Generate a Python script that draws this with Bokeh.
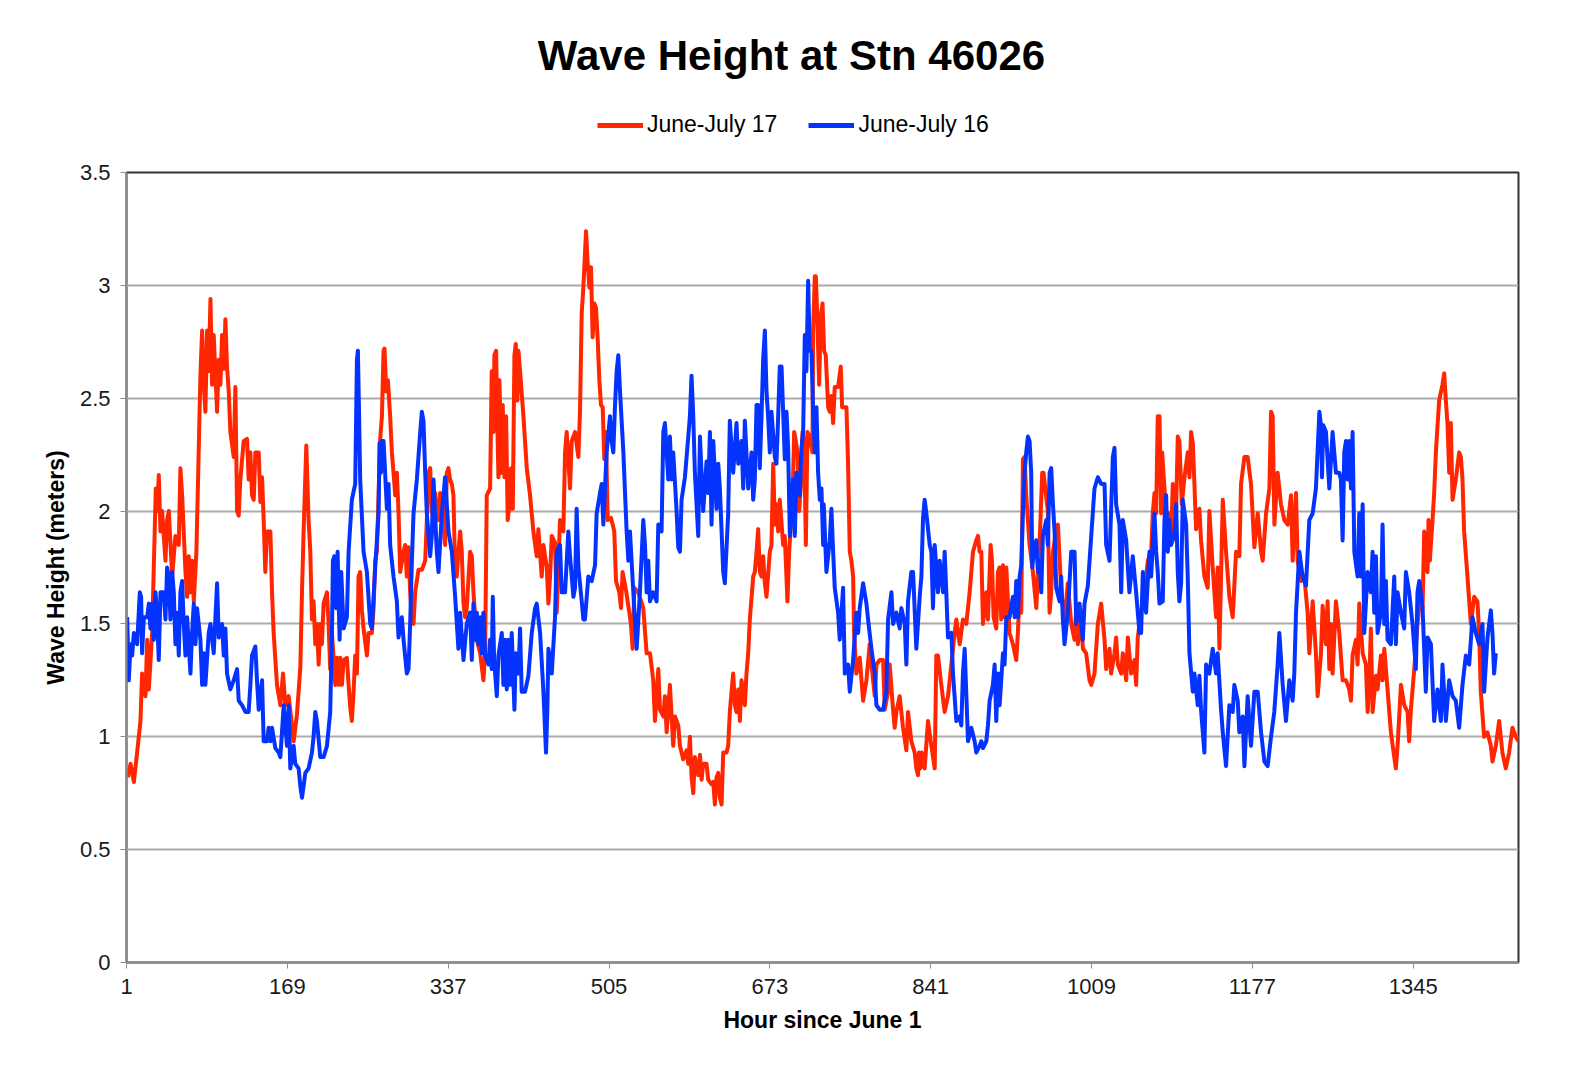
import numpy as np
from bokeh.plotting import figure
from bokeh.layouts import column
from bokeh.models import ColumnDataSource, Range1d, FixedTicker, Legend, LegendItem, Label
from bokeh.embed import file_html
from bokeh.resources import INLINE

title_text = "Wave Height at Stn 46026"
series_names = ["June-July 17", "June-July 16"]
series_colors = ["#ff2600", "#0433ff"]
x_title = "Hour since June 1"
y_title = "Wave Height (meters)"
x_ticks = [1, 169, 337, 505, 673, 841, 1009, 1177, 1345]
y_ticks = [0, 0.5, 1, 1.5, 2, 2.5, 3, 3.5]
y_tick_labels = ["0", "0.5", "1", "1.5", "2", "2.5", "3", "3.5"]

# June-July 17 (red)
red_hours = [
    2.4, 5.2, 8.7, 12.1, 15.6, 17.3, 20.8, 22.6, 24.3, 27.8, 29.5, 31.6, 33.0, 34.7, 36.5, 38.2, 41.7, 43.4, 45.2, 48.7,
    52.1, 55.6, 57.3, 59.1, 62.6, 64.3, 66.0, 67.8, 69.5, 71.3, 74.0, 76.5, 78.2, 80.0, 81.7, 83.4, 85.2, 86.9, 88.7, 90.4,
    92.1, 95.6, 97.4, 99.1, 100.8, 102.6, 104.3, 106.0, 107.8, 109.5, 113.0, 114.7, 116.5, 118.2, 119.9, 123.4, 126.9, 128.6, 130.4, 132.1,
    133.9, 135.6, 139.1, 140.8, 142.6, 144.3, 146.0, 147.8, 151.3, 153.0, 154.7, 158.2, 161.7, 164.5, 166.9, 170.4, 173.9, 175.6, 179.1, 182.6,
    184.3, 186.0, 188.8, 191.2, 193.0, 194.7, 196.4, 198.2, 199.9, 201.7, 203.4, 205.1, 206.9, 210.4, 212.1, 213.8, 215.6, 219.1, 220.8, 222.5,
    224.3, 226.0, 227.8, 231.2, 233.0, 234.7, 236.4, 238.2, 239.9, 241.7, 243.4, 245.1, 246.9, 248.6, 252.1, 253.8, 257.3, 259.1, 260.8, 262.5,
    264.3, 266.0, 267.8, 269.5, 270.5, 272.3, 274.0, 276.4, 278.2, 279.9, 281.7, 283.4, 285.1, 286.9, 290.4, 292.1, 293.8, 295.6, 297.3, 299.1,
    300.8, 302.5, 306.0, 309.5, 313.0, 314.7, 316.4, 318.2, 319.9, 321.7, 323.4, 325.1, 326.9, 328.6, 330.4, 332.1, 333.8, 335.6, 337.3, 339.0,
    340.8, 342.5, 344.3, 346.0, 347.7, 349.5, 351.2, 353.0, 354.7, 356.4, 359.9,
    361.7, 363.4, 366.9, 370.4, 373.8, 375.6, 377.3, 380.8, 382.5, 384.3, 385.3, 387.1, 388.5, 389.5, 390.5, 393.0, 394.0, 395.8, 397.5, 399.2,
    401.0, 402.7, 404.5, 406.2, 407.6, 409.3, 410.4, 412.1, 415.6, 419.1, 422.5, 426.0, 429.5, 431.2, 434.7, 436.5, 440.0, 441.7, 443.4, 445.2,
    448.6, 450.4, 452.1, 453.8, 457.3, 459.1, 460.8, 464.3, 466.0, 469.5, 473.0, 474.7, 476.5, 478.2, 481.0, 482.7, 484.5, 486.2, 487.9, 489.7,
    491.4, 493.2, 494.9, 496.6, 498.4, 500.1, 501.8, 503.6, 507.1, 510.5, 512.3, 515.8, 517.5, 519.2, 522.7, 526.2, 527.9, 529.7, 531.4, 535.6,
    540.8, 544.3, 547.8, 551.2, 553.0, 556.5, 558.2, 561.7, 563.4, 565.2, 568.6, 572.1, 573.9, 577.3, 579.1, 582.5, 586.0, 587.8, 589.5, 591.3,
    593.0, 594.7, 598.2, 600.0, 601.7, 603.4, 606.9, 608.6, 612.1, 613.9, 615.6, 617.3, 619.1, 620.8, 622.6, 624.3, 627.8, 629.5, 631.2, 633.0,
    634.7, 636.5, 638.2, 640.0, 641.7, 643.4, 646.9, 648.6, 650.4, 652.1, 655.6, 657.3, 659.1, 660.8, 662.5, 664.3, 666.0, 667.8, 669.5, 673.0,
    674.7, 676.5, 678.2, 679.9, 681.7, 683.4, 686.9, 688.6, 691.4, 693.2, 694.9, 696.6, 698.4, 700.1, 701.9, 703.6, 705.3, 707.1, 708.8, 710.6,
    712.3, 714.7,
    717.5, 718.2, 720.0, 721.0, 722.4, 724.5, 726.2, 728.0, 729.7, 731.4, 733.9, 735.6, 737.3, 739.1, 740.8, 744.3, 747.1, 748.5, 751.3, 753.0,
    754.7, 756.5, 758.2, 760.0, 761.0, 763.4, 766.9, 770.4, 773.9, 777.3, 779.1, 782.6, 784.3, 787.8, 791.3, 793.0, 796.5, 798.2, 801.7, 803.4,
    805.2, 808.6, 812.1, 815.6, 817.3, 820.8, 824.3, 826.0, 827.8, 828.8, 830.2, 831.6, 834.7, 838.2, 841.7, 845.2, 846.9, 848.6, 852.1, 855.6,
    859.1, 862.6, 866.0, 867.8, 871.3, 874.7, 878.2, 881.7, 885.2, 888.6, 890.4, 892.1,
    893.9, 895.6, 899.1, 900.8, 903.6, 905.0, 906.7, 909.5, 911.3, 913.0, 914.7, 916.5, 918.2, 920.0, 923.4, 926.9, 930.4, 932.1, 933.9, 935.6,
    937.4, 939.1, 940.8, 944.3, 947.8, 951.3, 953.0, 954.7, 957.5, 958.9, 961.7, 963.4, 965.2, 966.9, 968.7, 972.1, 973.9, 977.4, 980.8, 984.3,
    987.8, 991.3, 993.0, 994.7, 998.2, 1000.0, 1003.4, 1006.9, 1008.7, 1012.1, 1015.6, 1019.1, 1022.6, 1024.3, 1027.8, 1029.5, 1033.0, 1034.7, 1036.5, 1040.0,
    1041.7, 1045.2, 1046.9, 1050.4, 1053.9, 1055.6, 1057.3, 1060.8, 1064.3, 1067.8,
    1071.3, 1073.0, 1074.8, 1076.5, 1078.2, 1080.0, 1081.7, 1082.8, 1085.2, 1088.7, 1090.4, 1092.1, 1093.9, 1097.4, 1099.1, 1100.8, 1103.3, 1106.1, 1109.5, 1111.3,
    1113.0, 1114.8, 1116.5, 1118.2, 1121.7, 1123.4, 1126.9, 1130.4, 1132.1, 1135.6, 1139.1, 1140.8, 1142.6, 1146.1, 1149.5, 1153.0, 1156.5, 1160.0, 1163.4, 1165.2,
    1168.7, 1172.1, 1175.6, 1179.1, 1182.6, 1186.1, 1187.8, 1191.3, 1194.8, 1196.5, 1198.2, 1200.0, 1203.4, 1206.9, 1210.4, 1213.9, 1217.4, 1219.1, 1222.6, 1224.3,
    1227.8, 1231.3, 1234.7, 1236.5, 1240.0, 1243.4, 1245.2,
    1248.7, 1250.4, 1253.9, 1255.6, 1257.4, 1259.1, 1260.8, 1264.3, 1267.8, 1271.3, 1274.8, 1278.2, 1280.0, 1281.7, 1285.2, 1286.9, 1288.7, 1292.2, 1295.6, 1297.4,
    1299.1, 1300.8, 1302.6, 1306.1, 1307.8, 1311.3, 1313.0, 1314.8, 1318.2, 1321.7, 1325.2, 1326.9, 1328.7, 1332.2, 1335.6, 1339.1, 1340.8, 1342.6, 1346.1, 1349.5,
    1353.0, 1354.8, 1356.5, 1360.0, 1361.0, 1362.4, 1365.2, 1366.9, 1368.7, 1372.1, 1375.6, 1377.4, 1379.1, 1380.8, 1382.6, 1384.3, 1386.1, 1389.5, 1393.0, 1394.8,
    1396.5, 1398.2, 1401.7, 1405.2, 1408.7, 1412.1, 1413.9, 1415.6, 1419.1, 1422.6, 1426.1, 1427.8, 1431.3, 1434.8, 1438.2, 1441.7, 1445.2, 1448.7, 1452.2, 1455.0,
]
red_height = [
    0.82, 0.88, 0.80, 0.93, 1.07, 1.28, 1.18, 1.43, 1.21, 1.46, 1.75, 2.10, 2.00, 2.16, 1.91, 2.00, 1.78, 1.96, 2.00, 1.71,
    1.89, 1.85, 2.19, 2.07, 1.73, 1.62, 1.80, 1.64, 1.78, 1.60, 1.82, 2.28, 2.60, 2.80, 2.56, 2.44, 2.80, 2.62, 2.94, 2.56,
    2.78, 2.44, 2.67, 2.56, 2.78, 2.63, 2.85, 2.64, 2.53, 2.35, 2.24, 2.55, 2.00, 1.98, 2.14, 2.31, 2.32, 2.14, 2.26, 2.07,
    2.05, 2.26, 2.26, 2.04, 2.15, 1.96, 1.73, 1.91, 1.91, 1.64, 1.46, 1.23, 1.14, 1.28, 1.14, 1.18, 1.05, 0.98, 1.10, 1.31,
    1.64, 1.91, 2.29, 1.96, 1.82, 1.52, 1.60, 1.41, 1.50, 1.32, 1.50, 1.41, 1.59, 1.64, 1.50, 1.30, 1.46, 1.23, 1.35, 1.23,
    1.35, 1.23, 1.34, 1.35, 1.23, 1.13, 1.07, 1.20, 1.36, 1.28, 1.71, 1.73, 1.56, 1.48, 1.36, 1.46, 1.46, 1.57, 1.78, 1.82,
    2.07, 2.32, 2.42, 2.71, 2.72, 2.53, 2.58, 2.42, 2.26, 2.17, 2.07, 2.17, 2.00, 1.73, 1.82, 1.85, 1.71, 1.84, 1.64, 1.52,
    1.50, 1.64, 1.74, 1.74, 1.78, 1.96, 2.17, 2.19, 2.00, 1.96, 2.08, 2.00, 1.96, 2.08, 2.03, 1.94, 1.85, 2.17, 2.19, 2.14,
    2.12, 2.07, 1.73, 1.71, 1.82, 1.91, 1.82, 1.59, 1.53, 1.57, 1.82,
    1.80, 1.64, 1.43, 1.37, 1.25, 1.37, 2.07, 2.10, 2.62, 2.35, 2.69, 2.71, 2.35, 2.15, 2.58, 2.17, 2.47, 2.15, 2.42, 1.96,
    2.03, 2.19, 2.01, 2.69, 2.74, 2.49, 2.71, 2.62, 2.42, 2.19, 2.07, 1.91, 1.80, 1.92, 1.71, 1.85, 1.75, 1.59, 1.71, 1.89,
    1.86, 1.55, 1.76, 1.96, 1.91, 2.26, 2.35, 2.10, 2.31, 2.35, 2.24, 2.44, 2.88, 2.99, 3.24, 3.10, 2.99, 3.08, 2.77, 2.92,
    2.90, 2.76, 2.58, 2.47, 2.46, 2.23, 2.35, 1.96, 1.97, 1.91, 1.69, 1.64, 1.57, 1.73, 1.65, 1.55, 1.50, 1.39, 1.66, 1.64,
    1.57, 1.37, 1.37, 1.25, 1.07, 1.30, 1.12, 1.09, 1.18, 1.02, 1.23, 0.96, 1.09, 1.05, 0.96, 0.90, 0.94, 0.88, 1.00, 0.82,
    0.75, 0.91, 0.83, 0.92, 0.81, 0.88, 0.88, 0.81, 0.79, 0.80, 0.70, 0.82, 0.84, 0.73, 0.70, 0.93, 0.93, 0.96, 1.11, 1.20,
    1.28, 1.14, 1.11, 1.21, 1.07, 1.25, 1.14, 1.28, 1.37, 1.52, 1.71, 1.73, 1.82, 1.92, 1.73, 1.71, 1.80, 1.68, 1.62, 1.82,
    1.85, 2.21, 1.94, 2.03, 1.91, 2.05, 1.85, 1.89, 1.60, 1.82, 1.94, 2.03, 2.35, 2.31, 2.26, 2.00, 2.11, 2.35, 2.31, 1.85,
    2.35, 2.33,
    2.26, 2.80, 3.04, 3.04, 2.88, 2.56, 2.86, 2.92, 2.71, 2.69, 2.46, 2.44, 2.51, 2.39, 2.55, 2.55, 2.64, 2.46, 2.46, 2.46,
    2.21, 1.82, 1.78, 1.71, 1.46, 1.28, 1.35, 1.16, 1.25, 1.41, 1.32, 1.18, 1.32, 1.34, 1.34, 1.12, 1.20, 1.32, 1.12, 1.04,
    1.11, 1.18, 1.04, 0.94, 1.11, 0.98, 0.93, 0.86, 0.83, 0.93, 0.86, 0.93, 0.86, 1.07, 0.96, 0.86, 1.36, 1.36, 1.23, 1.11,
    1.18, 1.32, 1.46, 1.52, 1.41, 1.52, 1.50, 1.64, 1.82, 1.87, 1.89, 1.82,
    1.82, 1.50, 1.64, 1.52, 1.85, 1.78, 1.53, 1.48, 1.73, 1.75, 1.52, 1.76, 1.53, 1.75, 1.46, 1.41, 1.34, 1.46, 1.64, 1.55,
    2.23, 2.24, 2.07, 1.85, 1.73, 1.57, 1.73, 1.85, 2.17, 2.17, 2.06, 2.00, 1.55, 1.64, 1.82, 1.91, 1.94, 1.64, 1.52, 1.68,
    1.50, 1.43, 1.57, 1.41, 1.53, 1.39, 1.37, 1.25, 1.23, 1.28, 1.50, 1.59, 1.43, 1.30, 1.39, 1.28, 1.37, 1.44, 1.32, 1.28,
    1.37, 1.25, 1.44, 1.28, 1.34, 1.23, 1.44, 1.55, 1.64, 1.78,
    1.82, 1.99, 2.08, 1.99, 2.42, 2.42, 1.99, 2.26, 2.10, 1.87, 1.99, 1.87, 2.12, 2.01, 2.33, 2.31, 2.03, 2.15, 2.26, 2.15,
    2.35, 2.30, 2.12, 1.92, 2.01, 1.87, 1.71, 1.66, 2.00, 1.75, 1.53, 1.75, 1.39, 2.05, 1.82, 1.62, 1.53, 1.82, 1.80, 2.12,
    2.24, 2.24, 2.12, 1.84, 1.99, 1.82, 1.78, 1.99, 2.10, 2.44, 2.42, 1.94, 2.17, 2.03, 1.96, 1.94, 2.07, 1.78, 2.08, 1.78,
    1.69, 1.71, 1.55, 1.37, 1.60, 1.37, 1.18,
    1.37, 1.58, 1.41, 1.60, 1.30, 1.50, 1.28, 1.60, 1.46, 1.25, 1.25, 1.21, 1.16, 1.36, 1.43, 1.32, 1.59, 1.37, 1.32, 1.11,
    1.25, 1.48, 1.11, 1.27, 1.21, 1.36, 1.25, 1.39, 1.21, 1.02, 0.91, 0.86, 0.96, 1.23, 1.14, 1.11, 0.98, 1.12, 1.30, 1.50,
    1.64, 1.57, 1.91, 1.73, 1.96, 1.78, 1.96, 2.08, 2.26, 2.49, 2.56, 2.61, 2.49, 2.39, 2.17, 2.39, 2.05, 2.14, 2.26, 2.24,
    2.14, 1.91, 1.71, 1.50, 1.62, 1.60, 1.46, 1.20, 1.00, 1.02, 0.96, 0.89, 0.96, 1.07, 0.93, 0.86, 0.93, 1.04, 1.00, 0.98,
]

# June-July 16 (blue)
blue_hours = [
    1.7, 3.4, 5.2, 6.9, 8.7, 12.1, 14.9, 16.3, 17.3, 19.1, 22.6, 24.3, 26.0, 27.8, 29.5, 31.3, 33.0, 34.7, 36.5, 39.9,
    41.7, 43.4, 45.2, 46.9, 48.7, 50.4, 52.1, 53.9, 55.6, 57.3, 59.1, 60.8, 62.6, 64.3, 67.8, 69.5, 71.3, 73.0, 74.7, 78.2,
    80.0, 81.7, 83.4, 86.9, 88.7, 92.1, 95.6, 97.4, 100.8, 102.6, 104.3, 106.0, 109.5, 113.0, 116.5, 118.2, 121.7, 125.2, 128.6, 130.4,
    132.1, 135.6, 137.3, 139.1, 142.6, 144.3, 147.8, 149.5, 151.3, 153.0, 156.5, 160.0, 161.7, 163.4, 165.2, 168.6, 170.4, 172.1, 175.6, 177.3,
    180.8, 182.6,
    184.3, 187.8, 191.2, 194.7, 196.4, 198.2, 199.9, 203.4, 206.9, 210.4, 213.8, 215.6, 216.6, 218.0, 220.1, 221.5, 223.6, 225.3, 227.8, 231.2,
    233.0, 236.4, 239.9, 241.7, 242.7, 243.8, 245.1, 248.6, 252.1, 255.6, 257.3, 260.8, 264.3, 265.3, 266.7, 267.8, 269.5, 273.0, 274.7, 276.4,
    279.9, 283.4, 285.1, 288.6, 290.4, 293.8, 295.6, 297.3, 299.1, 300.8, 304.3, 307.8, 309.5, 311.2, 313.0, 314.7, 318.2, 319.9, 321.7, 325.1,
    326.9, 330.4, 333.8, 337.3, 340.8, 344.3, 347.7, 349.5, 353.0, 356.4, 359.9,
    361.7, 363.4, 365.2, 366.9, 368.6, 370.4, 372.1, 373.8, 375.6, 379.1, 380.8, 382.5, 383.6, 385.0, 387.8, 389.5, 393.0, 394.7, 396.5, 398.2,
    400.0, 401.7, 403.4, 406.2, 407.6, 410.4, 412.1, 413.8, 417.3, 420.8, 424.3, 427.8, 429.5, 433.0, 436.5, 439.2, 440.6, 441.7, 445.2, 448.6,
    450.4, 453.8, 455.6, 459.1, 462.5, 464.3, 467.8, 469.5, 471.2, 473.0, 476.5, 478.2, 479.9, 483.4, 486.9, 490.4, 492.1, 495.6, 497.3, 499.1,
    502.5, 506.0, 507.8, 509.5, 511.2, 513.0, 514.7, 516.5, 520.0, 523.4, 525.2, 526.9, 530.4, 533.9, 537.3,
    540.8, 542.6, 544.3, 546.0, 547.8, 551.2, 554.7, 556.5, 559.9, 561.7, 563.4, 565.2, 566.9, 568.6, 570.4, 572.1, 575.6, 577.3, 579.1, 580.8,
    584.3, 587.8, 589.5, 591.2, 593.0, 594.7, 598.2, 600.0, 603.4, 606.9, 608.6, 610.4, 612.1, 613.9, 617.3, 619.1, 620.8, 624.3, 626.0, 627.8,
    629.5, 631.2, 634.7, 638.2, 640.0, 643.4, 645.2, 646.9, 650.4, 653.9, 655.6, 657.3, 659.1, 660.8, 662.5, 664.3, 666.0, 667.8, 669.5, 671.2,
    673.0, 674.7, 678.2, 679.9, 681.7, 683.4, 685.2, 686.9, 688.6, 690.4, 692.1, 693.9, 697.3, 699.1, 700.8, 704.3, 706.0, 707.8, 709.5, 711.2,
    713.0, 714.7,
    716.5, 718.2, 720.0, 721.7, 723.4, 725.2, 726.9, 728.7, 729.3, 732.1, 735.6, 737.3, 739.1, 740.8, 744.3, 746.0, 749.5, 751.3, 754.7, 756.5,
    760.0, 763.4, 765.2, 766.9, 770.4, 773.9, 775.6, 779.1, 782.6, 784.3, 787.8, 791.3, 794.7, 796.5, 800.0, 801.7, 805.2, 808.6, 810.4, 813.9,
    815.6, 817.3, 820.8, 822.6, 826.0, 829.5, 831.3, 833.0, 834.7, 836.5, 840.0, 841.7, 843.4, 845.2, 848.6, 850.4, 853.9, 855.6, 857.3, 859.1,
    862.6, 864.3, 867.8, 871.3, 873.0, 874.7, 876.5, 880.0, 883.4, 886.9, 888.6, 892.1,
    893.9, 895.6, 899.1, 900.8, 902.6, 906.0, 907.8, 909.5, 911.3, 913.0, 916.5, 918.2, 920.0, 923.4, 926.9, 928.7, 930.4, 932.1, 933.9, 935.6,
    937.3, 939.1, 940.8, 942.6, 944.3, 946.0, 947.1, 949.5, 951.3, 953.0, 954.7, 956.5, 958.2, 961.7, 963.4, 965.2, 966.9, 968.7, 970.4, 972.1,
    975.6, 977.3, 979.1, 980.8, 984.3, 987.8, 991.3, 993.0, 996.5, 999.9, 1001.7, 1005.2, 1008.7, 1012.1, 1015.6, 1019.1, 1022.6, 1024.3, 1027.8, 1029.5,
    1031.3, 1033.0, 1034.7, 1038.2, 1040.0, 1041.7, 1045.2, 1048.6, 1052.1, 1055.6, 1059.1, 1060.8, 1062.6, 1066.0, 1069.5,
    1071.3, 1073.0, 1074.8, 1076.5, 1078.2, 1080.0, 1083.4, 1085.2, 1086.9, 1088.7, 1090.4, 1092.1, 1095.6, 1097.4, 1099.1, 1100.8, 1102.6, 1104.3, 1107.8, 1109.5,
    1111.3, 1114.8, 1116.5, 1120.0, 1121.7, 1123.4, 1126.9, 1128.7, 1132.1, 1135.6, 1139.1, 1140.8, 1144.3, 1146.1, 1149.5, 1153.0, 1156.5, 1158.2, 1161.7, 1163.4,
    1166.9, 1168.7, 1172.1, 1175.6, 1179.1, 1182.6, 1186.1, 1189.6, 1193.0, 1196.5, 1199.9, 1203.4, 1205.2, 1208.7, 1212.1, 1215.6, 1219.1, 1220.8, 1222.6, 1226.1,
    1229.5, 1233.0, 1236.5, 1240.0, 1243.4, 1247.0,
    1248.7, 1249.7, 1251.1, 1253.9, 1257.4, 1260.8, 1264.3, 1267.8, 1269.5, 1271.3, 1273.0, 1274.8, 1276.5, 1278.2, 1280.0, 1281.7, 1283.5, 1286.9, 1288.7, 1290.4,
    1292.2, 1293.9, 1297.4, 1300.8, 1302.6, 1304.3, 1306.1, 1307.8, 1311.3, 1313.0, 1314.8, 1316.5, 1318.2, 1321.7, 1325.2, 1326.9, 1328.7, 1332.2, 1335.6, 1337.4,
    1340.8, 1344.3, 1347.8, 1349.5, 1351.3, 1354.8, 1358.2, 1360.0, 1363.5, 1366.9, 1370.4, 1373.9, 1375.6, 1379.1, 1382.6, 1386.1, 1389.5, 1393.0, 1396.5, 1400.0,
    1403.5, 1406.9, 1410.4, 1413.9, 1417.4, 1419.1, 1422.6, 1426.1, 1427.8, 1429.5, 1431.3,
]
blue_height = [
    1.53, 1.25, 1.41, 1.36, 1.46, 1.41, 1.64, 1.62, 1.37, 1.53, 1.53, 1.59, 1.48, 1.59, 1.43, 1.64, 1.53, 1.34, 1.64, 1.64,
    1.52, 1.75, 1.71, 1.52, 1.73, 1.64, 1.41, 1.55, 1.36, 1.64, 1.69, 1.50, 1.36, 1.53, 1.28, 1.46, 1.59, 1.41, 1.57, 1.43,
    1.23, 1.37, 1.23, 1.46, 1.50, 1.37, 1.68, 1.44, 1.50, 1.36, 1.48, 1.28, 1.21, 1.25, 1.30, 1.16, 1.14, 1.11, 1.11, 1.23,
    1.36, 1.40, 1.25, 1.12, 1.25, 0.98, 0.98, 1.04, 0.98, 1.04, 0.95, 0.93, 0.91, 1.02, 1.14, 0.96, 1.14, 0.86, 0.96, 0.88,
    0.86, 0.78,
    0.73, 0.84, 0.86, 0.93, 1.00, 1.11, 1.07, 0.91, 0.91, 0.96, 1.11, 1.46, 1.78, 1.80, 1.57, 1.82, 1.43, 1.73, 1.48, 1.53,
    1.82, 2.05, 2.12, 2.67, 2.71, 2.46, 2.14, 1.82, 1.73, 1.50, 1.48, 1.75, 1.99, 2.30, 2.17, 2.31, 2.31, 2.01, 2.12, 1.85,
    1.71, 1.60, 1.44, 1.53, 1.43, 1.28, 1.30, 1.50, 1.78, 1.99, 2.14, 2.35, 2.44, 2.40, 2.17, 1.99, 1.80, 1.89, 2.14, 1.82,
    1.73, 1.99, 2.15, 1.91, 1.82, 1.62, 1.39, 1.55, 1.34, 1.50, 1.55,
    1.34, 1.59, 1.43, 1.55, 1.41, 1.53, 1.37, 1.55, 1.36, 1.32, 1.43, 1.30, 1.62, 1.34, 1.18, 1.36, 1.46, 1.23, 1.43, 1.21,
    1.43, 1.23, 1.46, 1.12, 1.37, 1.28, 1.48, 1.20, 1.20, 1.27, 1.46, 1.57, 1.59, 1.46, 1.20, 0.93, 1.12, 1.39, 1.28, 1.53,
    1.82, 1.85, 1.64, 1.64, 1.91, 1.80, 1.62, 1.66, 2.01, 1.75, 1.60, 1.52, 1.52, 1.71, 1.69, 1.76, 1.99, 2.08, 2.12, 1.94,
    2.26, 2.42, 2.31, 2.26, 2.46, 2.62, 2.69, 2.53, 2.26, 1.91, 1.78, 1.91, 1.64, 1.39, 1.64,
    1.96, 1.85, 1.64, 1.78, 1.60, 1.64, 1.60, 1.94, 1.91, 2.35, 2.39, 2.26, 2.14, 2.33, 2.14, 2.26, 2.00, 1.84, 1.82, 2.05,
    2.15, 2.33, 2.42, 2.60, 2.42, 2.17, 1.89, 2.33, 2.00, 2.22, 2.08, 2.35, 1.94, 2.31, 2.01, 2.21, 2.10, 1.73, 1.68, 1.84,
    1.99, 2.40, 2.17, 2.39, 2.21, 2.31, 2.10, 2.40, 2.10, 2.26, 2.05, 2.14, 2.47, 2.47, 2.19, 2.42, 2.67, 2.80, 2.53, 2.42,
    2.26, 2.44, 2.24, 2.21, 2.42, 2.64, 2.64, 2.44, 2.23, 2.44, 2.28, 1.89, 2.14, 1.89, 2.17, 2.07, 2.28, 2.35, 2.78, 2.62,
    3.02, 2.71,
    2.71, 2.44, 2.26, 2.46, 2.17, 2.05, 2.10, 1.85, 2.03, 1.73, 1.87, 2.01, 1.82, 1.66, 1.55, 1.43, 1.66, 1.28, 1.32, 1.20,
    1.34, 1.55, 1.46, 1.57, 1.68, 1.59, 1.52, 1.39, 1.28, 1.14, 1.12, 1.12, 1.20, 1.52, 1.64, 1.50, 1.55, 1.48, 1.57, 1.50,
    1.32, 1.60, 1.73, 1.73, 1.39, 1.62, 1.71, 1.97, 2.05, 1.99, 1.85, 1.82, 1.57, 1.85, 1.64, 1.78, 1.64, 1.82, 1.64, 1.44,
    1.46, 1.28, 1.07, 1.09, 1.05, 1.28, 1.39, 0.98, 1.04, 0.98, 0.93, 0.96,
    0.98, 0.95, 0.98, 1.05, 1.16, 1.23, 1.32, 1.07, 1.28, 1.14, 1.37, 1.32, 1.53, 1.53, 1.62, 1.53, 1.69, 1.53, 1.71, 1.76,
    1.99, 2.17, 2.26, 2.33, 2.31, 2.17, 1.75, 1.85, 1.87, 1.73, 1.78, 1.64, 1.89, 1.96, 1.85, 2.17, 2.19, 2.03, 1.91, 1.66,
    1.60, 1.71, 1.52, 1.41, 1.55, 1.82, 1.82, 1.50, 1.59, 1.43, 1.59, 1.67, 1.89, 2.10, 2.15, 2.12, 2.12, 1.85, 1.78, 2.01,
    2.24, 2.28, 2.03, 1.94, 1.64, 1.96, 1.87, 1.64, 1.80, 1.64, 1.46, 1.46, 1.73, 1.55, 1.82,
    1.71, 1.85, 1.99, 1.82, 1.73, 1.59, 1.60, 1.96, 2.07, 1.82, 1.96, 1.85, 1.89, 2.03, 1.73, 1.60, 1.68, 2.05, 1.94, 1.71,
    1.37, 1.20, 1.28, 1.14, 1.27, 1.12, 0.93, 1.32, 1.28, 1.39, 1.28, 1.37, 1.12, 1.02, 0.87, 1.14, 1.11, 1.23, 1.16, 1.02,
    1.09, 0.87, 1.18, 0.96, 1.20, 1.20, 1.02, 0.89, 0.87, 1.00, 1.11, 1.32, 1.46, 1.23, 1.07, 1.25, 1.16, 1.28, 1.55, 1.82,
    1.71, 1.67, 1.96, 1.99, 2.10, 2.44,
    2.38, 2.15, 2.38, 2.35, 2.10, 2.35, 2.17, 2.17, 2.14, 1.87, 2.26, 2.31, 2.14, 2.31, 2.10, 2.35, 1.82, 1.71, 1.99, 1.71,
    2.03, 1.46, 1.73, 1.64, 1.82, 1.55, 1.80, 1.46, 1.55, 1.94, 1.50, 1.69, 1.43, 1.41, 1.71, 1.41, 1.64, 1.55, 1.48, 1.73,
    1.64, 1.50, 1.30, 1.64, 1.69, 1.57, 1.20, 1.44, 1.41, 1.07, 1.21, 1.07, 1.32, 1.07, 1.25, 1.18, 1.16, 1.04, 1.23, 1.36,
    1.32, 1.53, 1.46, 1.41, 1.50, 1.20, 1.44, 1.56, 1.46, 1.28, 1.37,
]

assert len(red_hours) == len(red_height), (len(red_hours), len(red_height))
assert len(blue_hours) == len(blue_height), (len(blue_hours), len(blue_height))

FONT = "Liberation Sans"
W = 1554
HEADER_H = 160
FRAME_L, FRAME_R = 126, 1518   # page x of the plot frame (header frame is aligned to it)

# ---- header: title and legend (its frame is aligned with the chart frame) ----
header = figure(width=W, height=HEADER_H, output_backend="svg", toolbar_location=None,
                x_range=Range1d(FRAME_L, FRAME_R), y_range=Range1d(0, HEADER_H),
                min_border=0, min_border_left=0, min_border_right=0,
                min_border_top=0, min_border_bottom=0)
header.axis.visible = False
header.grid.visible = False
header.outline_line_color = None
header.background_fill_color = "white"
header.border_fill_color = "white"

header.add_layout(Label(x=791, y=HEADER_H - 55, text=title_text,
                        text_font=FONT, text_font_size="42px", text_font_style="bold",
                        text_color="black", text_align="center", text_baseline="middle"))

# legend keys: line renderers without visible points
key_red = header.line(x=np.array([np.nan]), y=np.array([np.nan]), line_color=series_colors[0], line_width=5)
key_blue = header.line(x=np.array([np.nan]), y=np.array([np.nan]), line_color=series_colors[1], line_width=5)
legend = Legend(items=[LegendItem(label=series_names[0], renderers=[key_red]),
                       LegendItem(label=series_names[1], renderers=[key_blue])],
                orientation="horizontal", location=(593 - FRAME_L, 18),
                label_text_font=FONT, label_text_font_size="23px", label_text_color="black",
                glyph_width=46, glyph_height=20, label_standoff=4, spacing=31,
                padding=4, margin=0, border_line_alpha=0, background_fill_alpha=0)
header.add_layout(legend, "center")

# ---- main chart ----
p = figure(width=W, height=891, output_backend="svg", toolbar_location=None,
           x_range=Range1d(1, 1455), y_range=Range1d(0, 3.5),
           min_border_left=FRAME_L, min_border_right=W - FRAME_R, min_border_top=12, min_border_bottom=89)
p.background_fill_color = "white"
p.border_fill_color = "white"
p.outline_line_color = "#333333"
p.outline_line_width = 2

src_red = ColumnDataSource(dict(x=red_hours, y=red_height))
src_blue = ColumnDataSource(dict(x=blue_hours, y=blue_height))
p.line("x", "y", source=src_red, line_color=series_colors[0], line_width=4, line_join="round")
p.line("x", "y", source=src_blue, line_color=series_colors[1], line_width=4, line_join="round")

p.xaxis.ticker = FixedTicker(ticks=x_ticks)
p.yaxis.ticker = FixedTicker(ticks=y_ticks)
p.yaxis.major_label_overrides = {t: s for t, s in zip(y_ticks, y_tick_labels)}
p.xaxis.major_label_overrides = {t: str(t) for t in x_ticks}
for ax in (p.xaxis[0], p.yaxis[0]):
    ax.axis_line_color = "#8c8c8c"
    ax.axis_line_width = 2
    ax.major_tick_line_color = "#8c8c8c"
    ax.major_tick_line_width = 1
    ax.major_tick_out = 6
    ax.major_tick_in = 0
    ax.minor_tick_out = 0
    ax.minor_tick_in = 0
    ax.major_label_text_font = FONT
    ax.major_label_text_font_size = "22px"
    ax.major_label_text_color = "#1a1a1a"
    ax.major_label_standoff = 10
    ax.axis_label_text_font = FONT
    ax.axis_label_text_font_size = "23px"
    ax.axis_label_text_font_style = "bold"
    ax.axis_label_text_color = "black"
p.xaxis.axis_label = x_title
p.yaxis.axis_label = y_title
p.xaxis.axis_label_standoff = 10
p.yaxis.axis_label_standoff = 8

p.xgrid.grid_line_color = None
p.ygrid.grid_line_color = "#ababab"
p.ygrid.grid_line_width = 2

layout = column(header, p, spacing=0)
open("out.html", "w").write(file_html(layout, INLINE))
